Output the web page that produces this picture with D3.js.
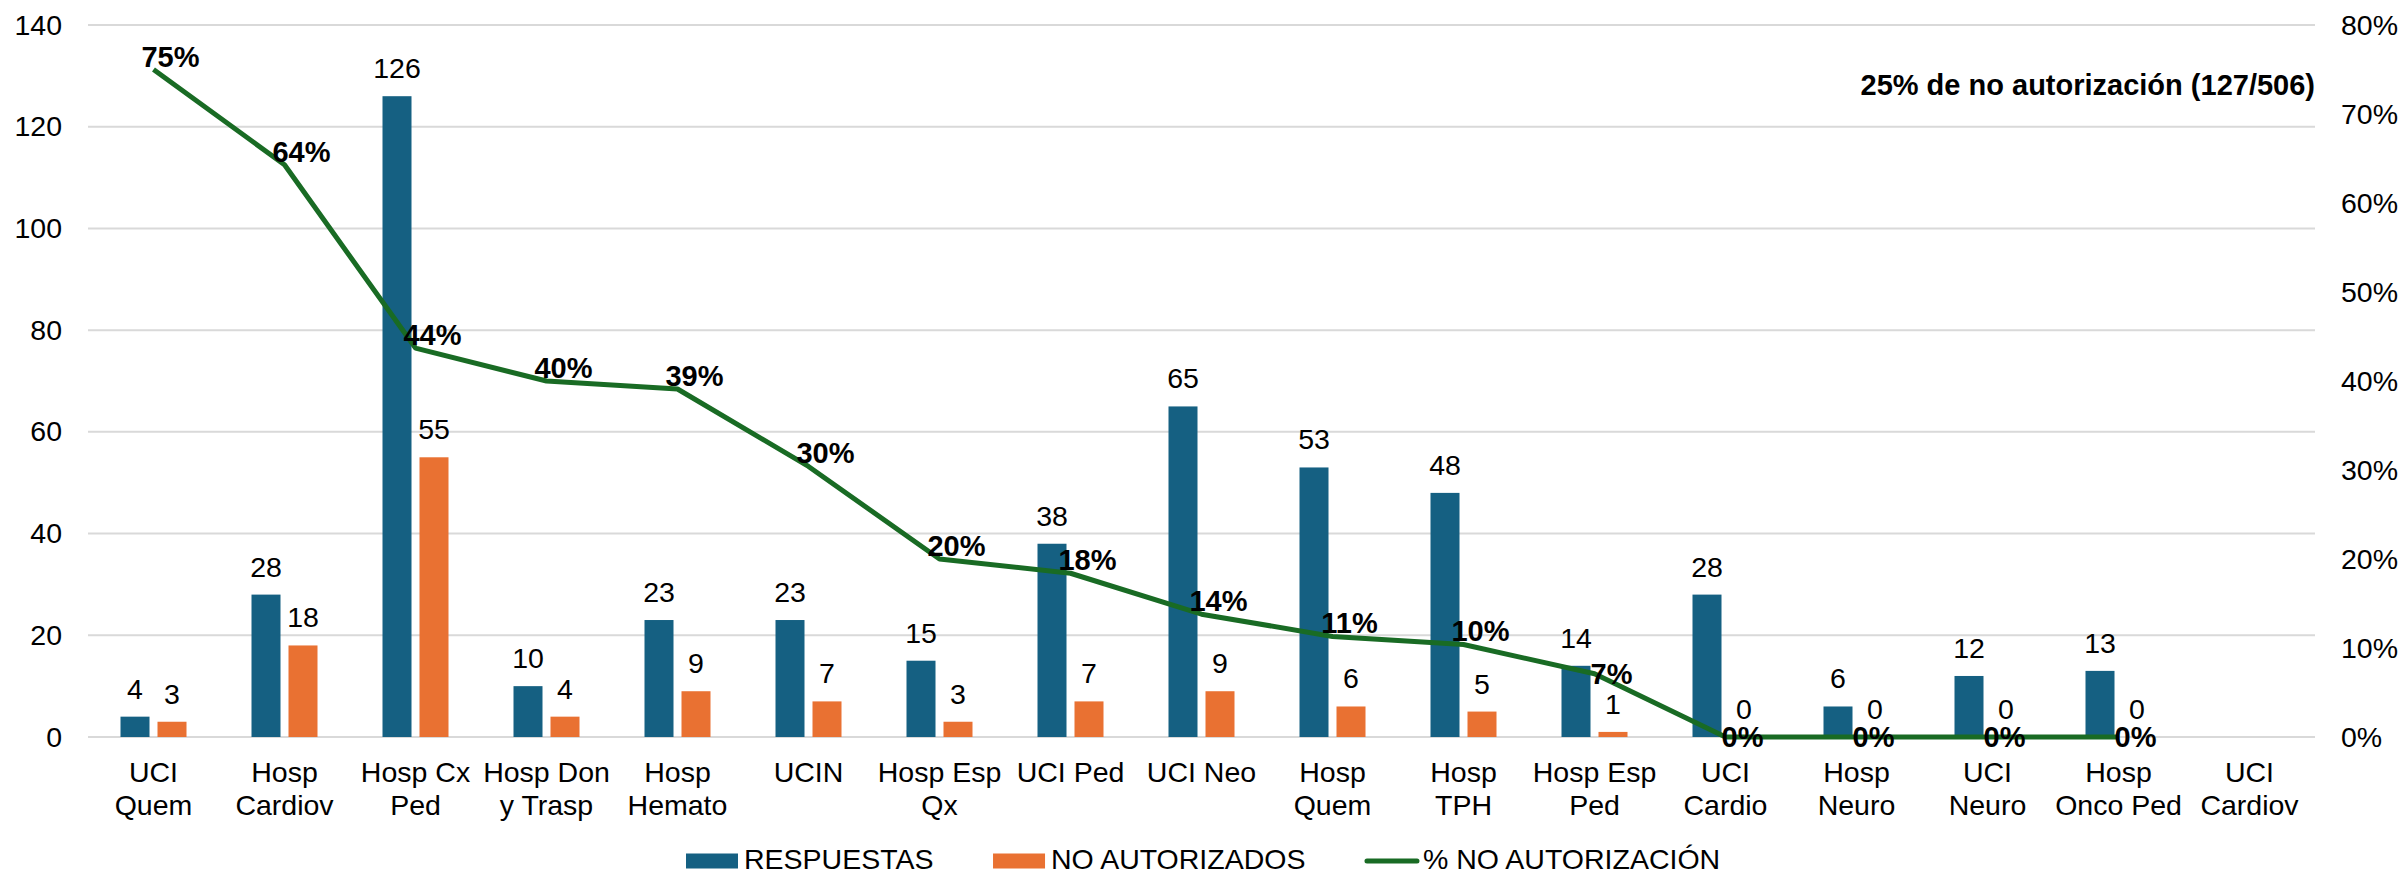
<!DOCTYPE html>
<html>
<head>
<meta charset="utf-8">
<script src="https://cdn.jsdelivr.net/npm/d3@7"></script>
<style>
  body { margin: 0; background: #fff; }
  svg text { font-family: "Liberation Sans", Arial, sans-serif; fill: #000; }
  .tick text { font-size: 28.5px; }
</style>
</head>
<body>
<div id="grafico"></div>
<script>
// Datos
const categorias = ["UCI Quem", "Hosp Cardiov", "Hosp Cx Ped", "Hosp Don y Trasp", "Hosp Hemato", "UCIN",
  "Hosp Esp Qx", "UCI Ped", "UCI Neo", "Hosp Quem", "Hosp TPH", "Hosp Esp Ped", "UCI Cardio",
  "Hosp Neuro", "UCI Neuro", "Hosp Onco Ped", "UCI Cardiov"];
const respuestas = [4, 28, 126, 10, 23, 23, 15, 38, 65, 53, 48, 14, 28, 6, 12, 13, null];
const noAutorizados = [3, 18, 55, 4, 9, 7, 3, 7, 9, 6, 5, 1, 0, 0, 0, 0, null];
const pctNoAutorizacion = [0.75, 0.643, 0.437, 0.40, 0.391, 0.304, 0.20, 0.184, 0.138, 0.113, 0.104, 0.071, 0, 0, 0, 0, null];
const ticksIzq = [0, 20, 40, 60, 80, 100, 120, 140];
const ticksDer = [0, 0.1, 0.2, 0.3, 0.4, 0.5, 0.6, 0.7, 0.8];
const series = ["RESPUESTAS", "NO AUTORIZADOS", "% NO AUTORIZACIÓN"];
const anotacion = "25% de no autorización (127/506)";

// Colores
const azul = "#156082", naranja = "#E97132", verde = "#196B24";

const W = 2405, H = 876;
const plot = { left: 88, right: 2315, top: 25, bottom: 737 };

const svg = d3.select("#grafico")
  .append("svg")
  .attr("width", W)
  .attr("height", H);

// Escalas
const x = d3.scaleBand()
  .domain(categorias)
  .range([plot.left, plot.right])
  .padding(0);

const grupo = 66;
const xSerie = d3.scaleBand()
  .domain([0, 1])
  .range([(x.bandwidth() - grupo) / 2, (x.bandwidth() + grupo) / 2])
  .paddingInner(8 / 37);

const y = d3.scaleLinear().domain([0, 140]).range([plot.bottom, plot.top]);
const y2 = d3.scaleLinear().domain([0, 0.8]).range([plot.bottom, plot.top]);

// Líneas de cuadrícula
svg.append("g")
  .selectAll("line")
  .data(ticksIzq)
  .enter().append("line")
  .attr("x1", plot.left)
  .attr("x2", plot.right)
  .attr("y1", d => y(d))
  .attr("y2", d => y(d))
  .attr("stroke", "#d9d9d9")
  .attr("stroke-width", 2);

// Ejes
const ejeIzq = svg.append("g")
  .attr("transform", `translate(${plot.left},0)`)
  .call(d3.axisLeft(y).tickValues(ticksIzq).tickSize(0).tickPadding(26));
ejeIzq.select(".domain").remove();

const ejeDer = svg.append("g")
  .attr("transform", `translate(${plot.right},0)`)
  .call(d3.axisRight(y2).tickValues(ticksDer).tickSize(0).tickPadding(26).tickFormat(d3.format(".0%")));
ejeDer.select(".domain").remove();

svg.selectAll(".tick text").attr("font-size", 28.5).style("font-family", null);

// Etiquetas del eje X (con ajuste de línea)
const anchoMax = 129;
const etiquetasX = svg.append("g");
categorias.forEach(cat => {
  const t = etiquetasX.append("text")
    .attr("x", x(cat) + x.bandwidth() / 2)
    .attr("y", 782)
    .attr("text-anchor", "middle")
    .attr("font-size", 28.5);
  const palabras = cat.split(" ");
  let lineas = [], actual = "";
  const medidor = svg.append("text").attr("font-size", 28.5);
  palabras.forEach(p => {
    const prueba = actual ? actual + " " + p : p;
    medidor.text(prueba);
    if (actual && medidor.node().getComputedTextLength() > anchoMax) {
      lineas.push(actual);
      actual = p;
    } else {
      actual = prueba;
    }
  });
  lineas.push(actual);
  medidor.remove();
  lineas.forEach((l, i) => {
    t.append("tspan")
      .attr("x", x(cat) + x.bandwidth() / 2)
      .attr("dy", i === 0 ? 0 : 33)
      .text(l);
  });
});

// Barras
const datosBarras = [respuestas, noAutorizados];
const coloresBarras = [azul, naranja];
datosBarras.forEach((serie, s) => {
  const g = svg.append("g");
  const datos = categorias.map((c, i) => ({ c, v: serie[i] })).filter(d => d.v !== null);
  g.selectAll("rect")
    .data(datos)
    .enter().append("rect")
    .attr("x", d => x(d.c) + xSerie(s))
    .attr("y", d => y(d.v))
    .attr("width", xSerie.bandwidth())
    .attr("height", d => y(0) - y(d.v))
    .attr("fill", coloresBarras[s]);
  g.selectAll("text")
    .data(datos)
    .enter().append("text")
    .attr("x", d => x(d.c) + xSerie(s) + xSerie.bandwidth() / 2)
    .attr("y", d => y(d.v) - 18)
    .attr("text-anchor", "middle")
    .attr("font-size", 28.5)
    .text(d => d.v);
});

// Línea de porcentaje
const datosLinea = categorias.map((c, i) => ({ c, v: pctNoAutorizacion[i] })).filter(d => d.v !== null);
const linea = d3.line()
  .x(d => x(d.c) + x.bandwidth() / 2)
  .y(d => y2(d.v));

svg.append("path")
  .datum(datosLinea)
  .attr("d", linea)
  .attr("fill", "none")
  .attr("stroke", verde)
  .attr("stroke-width", 5)
  .attr("stroke-linejoin", "round");

svg.append("g")
  .selectAll("text")
  .data(datosLinea)
  .enter().append("text")
  .attr("x", d => x(d.c) + x.bandwidth() / 2 + 17)
  .attr("y", d => y2(d.v) + (d.v < 0.1 ? 10 : -3))
  .attr("text-anchor", "middle")
  .attr("font-size", 29)
  .attr("font-weight", "bold")
  .text(d => d3.format(".0%")(d.v));

// Anotación
svg.append("text")
  .attr("x", plot.right)
  .attr("y", 95)
  .attr("text-anchor", "end")
  .attr("font-size", 29)
  .attr("font-weight", "bold")
  .text(anotacion);

// Leyenda
const leyenda = svg.append("g");
let lx = 686;
const ly = 861;
series.forEach((nombre, i) => {
  if (i < 2) {
    leyenda.append("rect")
      .attr("x", lx).attr("y", ly - 7.5)
      .attr("width", 52).attr("height", 15)
      .attr("fill", coloresBarras[i]);
  } else {
    leyenda.append("line")
      .attr("x1", lx + 2).attr("x2", lx + 52)
      .attr("y1", ly).attr("y2", ly)
      .attr("stroke", verde)
      .attr("stroke-width", 5)
      .attr("stroke-linecap", "round");
  }
  const t = leyenda.append("text")
    .attr("x", lx + 58)
    .attr("y", ly + 8)
    .attr("font-size", 28.5)
    .text(nombre);
  lx += 58 + t.node().getComputedTextLength() + 59.5;
});
</script>
</body>
</html>
